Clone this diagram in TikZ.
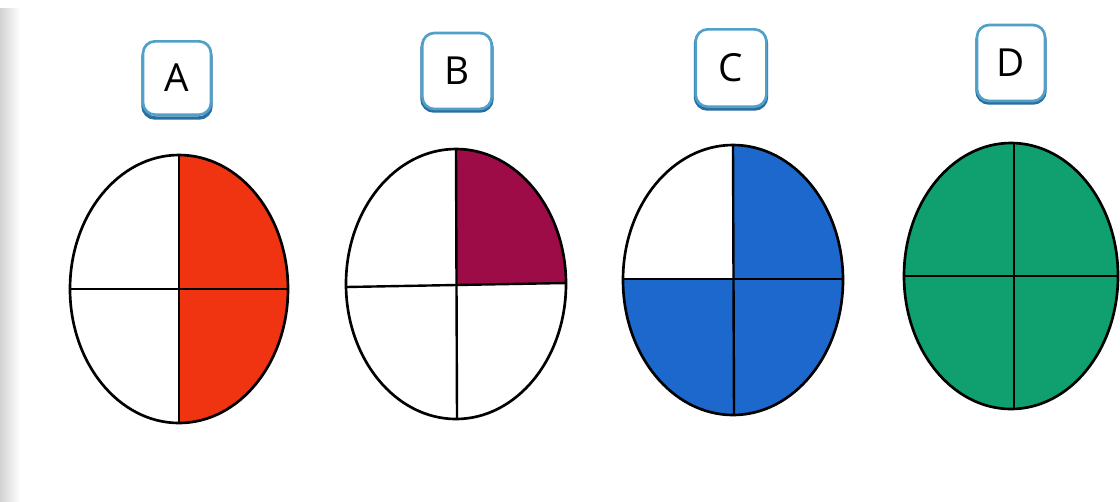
\documentclass[tikz,border=0pt]{standalone}
\usepackage{fontspec}
\setsansfont{Open Sans}
\definecolor{boxblue}{RGB}{80,160,200}
\definecolor{boxshadow}{RGB}{40,110,160}
\definecolor{redA}{RGB}{240,52,18}
\definecolor{maroonB}{RGB}{158,12,72}
\definecolor{blueC}{RGB}{28,104,204}
\definecolor{greenD}{RGB}{16,160,112}
\begin{document}
\begin{tikzpicture}[x=0.75pt,y=-0.75pt,
  lbl/.style={draw=boxblue, line width=2pt, rounded corners=9pt, fill=white,
    minimum width=51pt, minimum height=56pt, inner sep=0pt,
    font=\sffamily\fontsize{29}{29}\selectfont},
  lblshadow/.style={draw=boxshadow, line width=2.6pt, rounded corners=9pt},
  outline/.style={draw=black, line width=2pt},
  divide/.style={draw=black, line width=1.8pt}]
\useasboundingbox (0,0) rectangle (1120,501);
\fill[white] (0,0) rectangle (1120,501);
\shade[left color=gray!35, right color=white] (0,8) rectangle (20,501);

% label boxes
\foreach \x/\y/\w/\h in {177/79/68/74, 457/71/70/76, 731/68/71/78, 1011/63/68/76}{
  \draw[lblshadow] (\x-\w/2,\y-\h/2+3) rectangle (\x+\w/2,\y+\h/2+2);
}
\node[lbl, minimum width=51pt, minimum height=55pt] (labA) at (177,78) {A};
\node[lbl, minimum width=52pt, minimum height=57pt] (labB) at (457,71) {B};
\node[lbl, minimum width=53pt, minimum height=58pt] (labC) at (731,68) {C};
\node[lbl, minimum width=51pt, minimum height=57pt] (labD) at (1011,63) {D};

% ellipse A: right half red
\coordinate (cA) at (179,289);
\begin{scope}
  \clip (cA) ellipse [x radius=109, y radius=134];
  \fill[redA] (179,140) rectangle (300,440);
\end{scope}
\draw[outline] (cA) ellipse [x radius=109, y radius=134];
\draw[divide] (179,155) -- (179,423);
\draw[divide] (70,289) -- (288,289);

% ellipse B: top-right quarter maroon
\coordinate (cB) at (456,284);
\begin{scope}
  \clip (cB) ellipse [x radius=110, y radius=135];
  \fill[maroonB] (456,140) -- (580,140) -- (580,283) -- (456,284) -- cycle;
\end{scope}
\draw[outline] (cB) ellipse [x radius=110, y radius=135];
\draw[divide] (456,149) -- (457,419);
\draw[divide] (346,287) -- (566,283);

% ellipse C: three quarters blue (all but top-left)
\coordinate (cC) at (733,280);
\begin{scope}
  \clip (cC) ellipse [x radius=110, y radius=135];
  \fill[blueC] (600,130) rectangle (860,430);
  \fill[white] (600,130) rectangle (733,279);
\end{scope}
\draw[outline] (cC) ellipse [x radius=110, y radius=135];
\draw[divide] (733,145) -- (734,415);
\draw[divide] (623,279) -- (843,279);

% ellipse D: all green
\coordinate (cD) at (1011,276);
\draw[outline, fill=greenD] (cD) ellipse [x radius=107, y radius=133];
\draw[divide] (1014,143) -- (1014,409);
\draw[divide] (904,276) -- (1118,276);
\end{tikzpicture}
\end{document}
